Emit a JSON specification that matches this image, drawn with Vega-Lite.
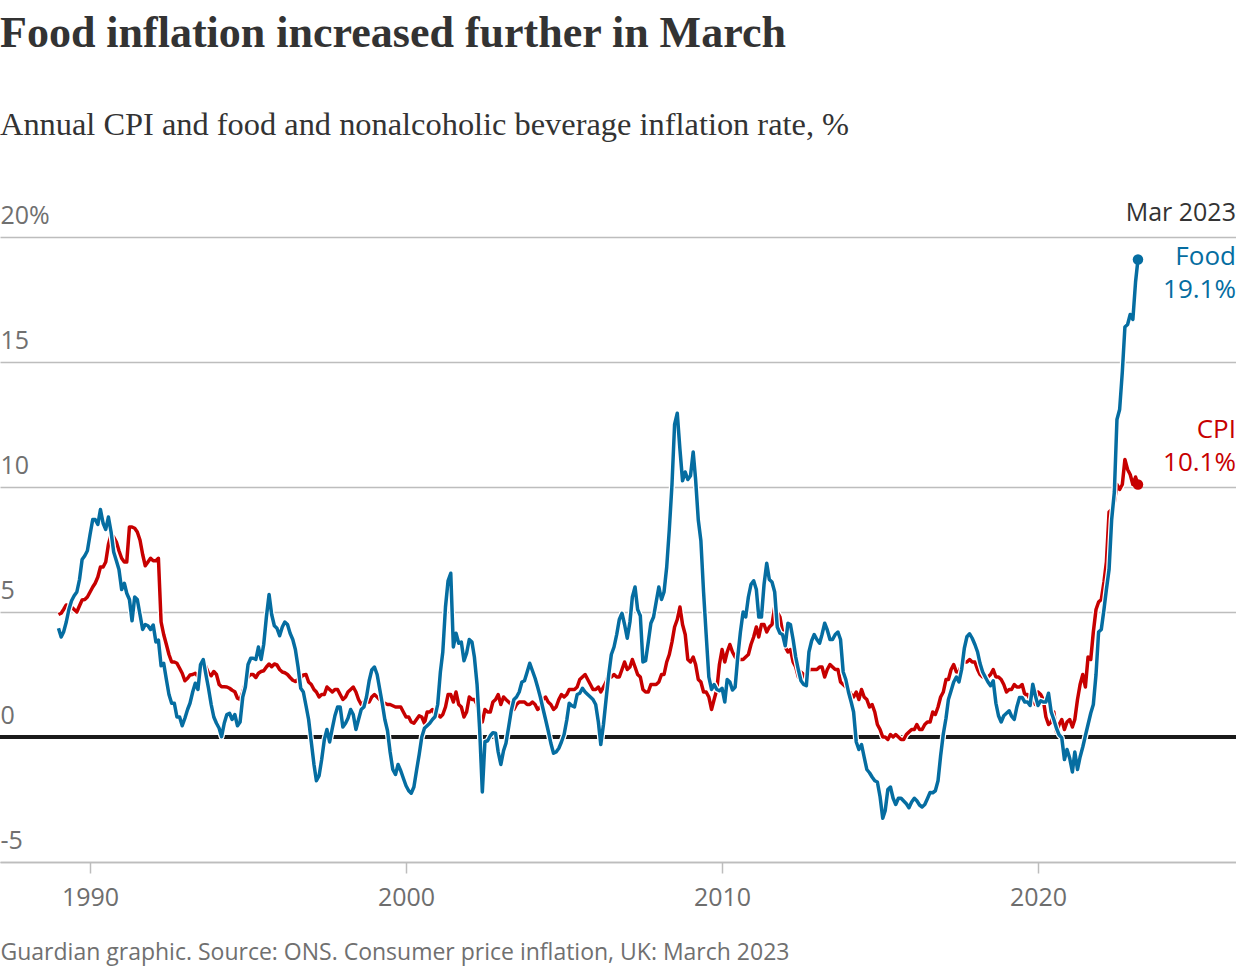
{
"$schema":"https://vega.github.io/schema/vega-lite/v6.json",
"width":1236,"height":625,
"autosize":{"type":"none"},
"padding":{"left":0,"right":0,"top":237,"bottom":110},
"background":"white",
"title":{"text":"Food inflation increased further in March","subtitle":"Annual CPI and food and nonalcoholic beverage inflation rate, %","anchor":"start","frame":"group","offset":60,"subtitlePadding":53,"font":"Liberation Serif","fontSize":44,"fontWeight":"bold","color":"#333333","subtitleFont":"Liberation Serif","subtitleFontSize":32.4,"subtitleColor":"#333333"},
"config":{"view":{"stroke":null}},
"datasets":{
"series":[
{"d":"1989-01","c":4.9,"f":4.35},{"d":"1989-02","c":4.95,"f":4.0},{"d":"1989-03","c":5.1,"f":4.2},{"d":"1989-04","c":5.28,"f":4.6},{"d":"1989-05","c":5.25,"f":5.1},{"d":"1989-06","c":5.2,"f":5.45},{"d":"1989-07","c":5.1,"f":5.65},{"d":"1989-08","c":5.0,"f":5.8},{"d":"1989-09","c":5.25,"f":6.3},{"d":"1989-10","c":5.48,"f":7.1},{"d":"1989-11","c":5.5,"f":7.25},{"d":"1989-12","c":5.6,"f":7.45},
{"d":"1990-01","c":5.8,"f":8.1},{"d":"1990-02","c":6.0,"f":8.7},{"d":"1990-03","c":6.15,"f":8.7},{"d":"1990-04","c":6.4,"f":8.5},{"d":"1990-05","c":6.8,"f":9.1},{"d":"1990-06","c":6.8,"f":8.55},{"d":"1990-07","c":7.0,"f":8.3},{"d":"1990-08","c":7.7,"f":8.8},{"d":"1990-09","c":8.1,"f":8.2},{"d":"1990-10","c":8.0,"f":7.4},{"d":"1990-11","c":7.8,"f":7.05},{"d":"1990-12","c":7.45,"f":6.7},
{"d":"1991-01","c":7.15,"f":5.9},{"d":"1991-02","c":7.0,"f":6.15},{"d":"1991-03","c":7.0,"f":5.75},{"d":"1991-04","c":8.4,"f":5.5},{"d":"1991-05","c":8.4,"f":4.65},{"d":"1991-06","c":8.35,"f":5.6},{"d":"1991-07","c":8.2,"f":5.5},{"d":"1991-08","c":7.88,"f":4.9},{"d":"1991-09","c":7.3,"f":4.3},{"d":"1991-10","c":6.85,"f":4.5},{"d":"1991-11","c":7.0,"f":4.45},{"d":"1991-12","c":7.15,"f":4.3},
{"d":"1992-01","c":7.05,"f":4.48},{"d":"1992-02","c":7.05,"f":3.8},{"d":"1992-03","c":7.15,"f":3.88},{"d":"1992-04","c":4.6,"f":2.85},{"d":"1992-05","c":4.1,"f":2.95},{"d":"1992-06","c":3.7,"f":2.3},{"d":"1992-07","c":3.3,"f":1.7},{"d":"1992-08","c":3.0,"f":1.35},{"d":"1992-09","c":3.0,"f":1.35},{"d":"1992-10","c":2.95,"f":0.8},{"d":"1992-11","c":2.75,"f":0.8},{"d":"1992-12","c":2.55,"f":0.45},
{"d":"1993-01","c":2.25,"f":0.75},{"d":"1993-02","c":2.35,"f":1.1},{"d":"1993-03","c":2.48,"f":1.35},{"d":"1993-04","c":2.5,"f":1.8},{"d":"1993-05","c":2.55,"f":2.15},{"d":"1993-06","c":2.42,"f":1.9},{"d":"1993-07","c":2.75,"f":2.9},{"d":"1993-08","c":3.08,"f":3.1},{"d":"1993-09","c":2.8,"f":2.5},{"d":"1993-10","c":2.55,"f":1.95},{"d":"1993-11","c":2.45,"f":1.3},{"d":"1993-12","c":2.62,"f":0.8},
{"d":"1994-01","c":2.5,"f":0.55},{"d":"1994-02","c":2.1,"f":0.35},{"d":"1994-03","c":2.01,"f":0.01},{"d":"1994-04","c":2.01,"f":0.55},{"d":"1994-05","c":2.0,"f":0.9},{"d":"1994-06","c":1.95,"f":0.95},{"d":"1994-07","c":1.87,"f":0.7},{"d":"1994-08","c":1.81,"f":0.9},{"d":"1994-09","c":1.55,"f":0.45},{"d":"1994-10","c":1.5,"f":0.6},{"d":"1994-11","c":1.8,"f":1.6},{"d":"1994-12","c":2.15,"f":2.0},
{"d":"1995-01","c":2.41,"f":2.9},{"d":"1995-02","c":2.5,"f":3.15},{"d":"1995-03","c":2.5,"f":3.15},{"d":"1995-04","c":2.38,"f":3.1},{"d":"1995-05","c":2.55,"f":3.6},{"d":"1995-06","c":2.62,"f":3.1},{"d":"1995-07","c":2.65,"f":3.7},{"d":"1995-08","c":2.8,"f":4.8},{"d":"1995-09","c":2.92,"f":5.7},{"d":"1995-10","c":2.81,"f":4.9},{"d":"1995-11","c":2.92,"f":4.45},{"d":"1995-12","c":2.88,"f":4.35},
{"d":"1996-01","c":2.7,"f":4.05},{"d":"1996-02","c":2.6,"f":4.4},{"d":"1996-03","c":2.57,"f":4.6},{"d":"1996-04","c":2.5,"f":4.5},{"d":"1996-05","c":2.38,"f":4.15},{"d":"1996-06","c":2.27,"f":3.9},{"d":"1996-07","c":2.22,"f":3.5},{"d":"1996-08","c":2.3,"f":2.8},{"d":"1996-09","c":2.38,"f":1.95},{"d":"1996-10","c":2.48,"f":1.8},{"d":"1996-11","c":2.5,"f":1.25},{"d":"1996-12","c":2.2,"f":0.7},
{"d":"1997-01","c":2.1,"f":-0.2},{"d":"1997-02","c":1.9,"f":-1.1},{"d":"1997-03","c":1.8,"f":-1.75},{"d":"1997-04","c":1.6,"f":-1.55},{"d":"1997-05","c":1.7,"f":-0.9},{"d":"1997-06","c":1.7,"f":-0.1},{"d":"1997-07","c":2.0,"f":0.3},{"d":"1997-08","c":1.9,"f":-0.2},{"d":"1997-09","c":1.8,"f":0.35},{"d":"1997-10","c":1.9,"f":0.85},{"d":"1997-11","c":1.9,"f":1.2},{"d":"1997-12","c":1.7,"f":1.2},
{"d":"1998-01","c":1.5,"f":0.4},{"d":"1998-02","c":1.6,"f":0.55},{"d":"1998-03","c":1.8,"f":0.75},{"d":"1998-04","c":1.9,"f":1.1},{"d":"1998-05","c":2.0,"f":0.9},{"d":"1998-06","c":1.8,"f":0.3},{"d":"1998-07","c":1.5,"f":0.7},{"d":"1998-08","c":1.3,"f":1.1},{"d":"1998-09","c":1.4,"f":1.2},{"d":"1998-10","c":1.4,"f":1.6},{"d":"1998-11","c":1.4,"f":2.25},{"d":"1998-12","c":1.6,"f":2.68},
{"d":"1999-01","c":1.7,"f":2.8},{"d":"1999-02","c":1.6,"f":2.5},{"d":"1999-03","c":1.5,"f":1.95},{"d":"1999-04","c":1.4,"f":1.35},{"d":"1999-05","c":1.35,"f":0.7},{"d":"1999-06","c":1.3,"f":0.25},{"d":"1999-07","c":1.3,"f":-0.6},{"d":"1999-08","c":1.25,"f":-1.3},{"d":"1999-09","c":1.2,"f":-1.5},{"d":"1999-10","c":1.2,"f":-1.1},{"d":"1999-11","c":1.2,"f":-1.35},{"d":"1999-12","c":1.0,"f":-1.65},
{"d":"2000-01","c":0.8,"f":-1.95},{"d":"2000-02","c":0.8,"f":-2.15},{"d":"2000-03","c":0.6,"f":-2.25},{"d":"2000-04","c":0.55,"f":-2.0},{"d":"2000-05","c":0.7,"f":-1.35},{"d":"2000-06","c":0.85,"f":-0.7},{"d":"2000-07","c":0.8,"f":0.0},{"d":"2000-08","c":0.55,"f":0.35},{"d":"2000-09","c":1.0,"f":0.45},{"d":"2000-10","c":1.0,"f":0.55},{"d":"2000-11","c":1.1,"f":0.7},{"d":"2000-12","c":0.9,"f":0.81},
{"d":"2001-01","c":0.9,"f":1.3},{"d":"2001-02","c":0.8,"f":2.6},{"d":"2001-03","c":0.9,"f":3.4},{"d":"2001-04","c":1.2,"f":5.2},{"d":"2001-05","c":1.7,"f":6.25},{"d":"2001-06","c":1.7,"f":6.55},{"d":"2001-07","c":1.4,"f":3.6},{"d":"2001-08","c":1.8,"f":4.15},{"d":"2001-09","c":1.3,"f":3.75},{"d":"2001-10","c":1.2,"f":3.8},{"d":"2001-11","c":0.8,"f":3.05},{"d":"2001-12","c":1.0,"f":3.35},
{"d":"2002-01","c":1.6,"f":3.9},{"d":"2002-02","c":1.5,"f":3.8},{"d":"2002-03","c":1.5,"f":3.2},{"d":"2002-04","c":1.3,"f":2.1},{"d":"2002-05","c":0.8,"f":0.3},{"d":"2002-06","c":0.6,"f":-2.2},{"d":"2002-07","c":1.1,"f":-0.19},{"d":"2002-08","c":1.0,"f":-0.15},{"d":"2002-09","c":1.0,"f":0.05},{"d":"2002-10","c":1.4,"f":0.17},{"d":"2002-11","c":1.5,"f":0.15},{"d":"2002-12","c":1.7,"f":-0.6},
{"d":"2003-01","c":1.3,"f":-1.1},{"d":"2003-02","c":1.6,"f":-0.55},{"d":"2003-03","c":1.5,"f":-0.25},{"d":"2003-04","c":1.4,"f":0.4},{"d":"2003-05","c":1.3,"f":1.05},{"d":"2003-06","c":1.1,"f":1.5},{"d":"2003-07","c":1.3,"f":1.6},{"d":"2003-08","c":1.4,"f":1.8},{"d":"2003-09","c":1.4,"f":2.2},{"d":"2003-10","c":1.4,"f":2.25},{"d":"2003-11","c":1.3,"f":2.6},{"d":"2003-12","c":1.3,"f":2.95},
{"d":"2004-01","c":1.4,"f":2.65},{"d":"2004-02","c":1.3,"f":2.35},{"d":"2004-03","c":1.1,"f":2.0},{"d":"2004-04","c":1.2,"f":1.6},{"d":"2004-05","c":1.5,"f":1.15},{"d":"2004-06","c":1.6,"f":0.7},{"d":"2004-07","c":1.4,"f":0.25},{"d":"2004-08","c":1.3,"f":-0.25},{"d":"2004-09","c":1.1,"f":-0.65},{"d":"2004-10","c":1.2,"f":-0.6},{"d":"2004-11","c":1.5,"f":-0.45},{"d":"2004-12","c":1.7,"f":-0.2},
{"d":"2005-01","c":1.6,"f":0.1},{"d":"2005-02","c":1.7,"f":0.68},{"d":"2005-03","c":1.9,"f":1.35},{"d":"2005-04","c":1.9,"f":1.25},{"d":"2005-05","c":1.9,"f":1.2},{"d":"2005-06","c":2.0,"f":1.7},{"d":"2005-07","c":2.3,"f":1.75},{"d":"2005-08","c":2.4,"f":1.95},{"d":"2005-09","c":2.5,"f":1.8},{"d":"2005-10","c":2.3,"f":1.7},{"d":"2005-11","c":2.1,"f":1.6},{"d":"2005-12","c":1.9,"f":1.5},
{"d":"2006-01","c":1.9,"f":1.3},{"d":"2006-02","c":2.0,"f":0.6},{"d":"2006-03","c":1.8,"f":-0.3},{"d":"2006-04","c":2.0,"f":0.5},{"d":"2006-05","c":2.2,"f":1.5},{"d":"2006-06","c":2.5,"f":2.5},{"d":"2006-07","c":2.4,"f":3.3},{"d":"2006-08","c":2.5,"f":3.6},{"d":"2006-09","c":2.4,"f":4.1},{"d":"2006-10","c":2.4,"f":4.7},{"d":"2006-11","c":2.7,"f":4.95},{"d":"2006-12","c":3.0,"f":4.5},
{"d":"2007-01","c":2.7,"f":3.95},{"d":"2007-02","c":2.8,"f":4.6},{"d":"2007-03","c":3.1,"f":5.6},{"d":"2007-04","c":2.8,"f":6.0},{"d":"2007-05","c":2.5,"f":5.1},{"d":"2007-06","c":2.4,"f":4.85},{"d":"2007-07","c":1.9,"f":3.0},{"d":"2007-08","c":1.8,"f":3.05},{"d":"2007-09","c":1.8,"f":3.8},{"d":"2007-10","c":2.1,"f":4.55},{"d":"2007-11","c":2.1,"f":4.8},{"d":"2007-12","c":2.1,"f":5.4},
{"d":"2008-01","c":2.2,"f":6.0},{"d":"2008-02","c":2.5,"f":5.5},{"d":"2008-03","c":2.5,"f":5.8},{"d":"2008-04","c":3.0,"f":6.8},{"d":"2008-05","c":3.3,"f":8.3},{"d":"2008-06","c":3.8,"f":10.1},{"d":"2008-07","c":4.4,"f":12.5},{"d":"2008-08","c":4.7,"f":12.95},{"d":"2008-09","c":5.2,"f":11.5},{"d":"2008-10","c":4.5,"f":10.25},{"d":"2008-11","c":4.1,"f":10.6},{"d":"2008-12","c":3.1,"f":10.3},
{"d":"2009-01","c":3.0,"f":10.45},{"d":"2009-02","c":3.2,"f":11.4},{"d":"2009-03","c":2.9,"f":10.3},{"d":"2009-04","c":2.3,"f":8.68},{"d":"2009-05","c":2.2,"f":7.85},{"d":"2009-06","c":1.8,"f":5.8},{"d":"2009-07","c":1.8,"f":4.1},{"d":"2009-08","c":1.6,"f":2.4},{"d":"2009-09","c":1.1,"f":1.9},{"d":"2009-10","c":1.5,"f":2.1},{"d":"2009-11","c":1.9,"f":1.9},{"d":"2009-12","c":2.9,"f":1.85},
{"d":"2010-01","c":3.5,"f":1.95},{"d":"2010-02","c":3.0,"f":1.4},{"d":"2010-03","c":3.4,"f":2.3},{"d":"2010-04","c":3.7,"f":2.2},{"d":"2010-05","c":3.4,"f":1.88},{"d":"2010-06","c":3.2,"f":2.0},{"d":"2010-07","c":3.1,"f":3.2},{"d":"2010-08","c":3.1,"f":4.2},{"d":"2010-09","c":3.1,"f":5.0},{"d":"2010-10","c":3.2,"f":4.8},{"d":"2010-11","c":3.3,"f":5.6},{"d":"2010-12","c":3.7,"f":6.1},
{"d":"2011-01","c":4.0,"f":6.25},{"d":"2011-02","c":4.4,"f":5.9},{"d":"2011-03","c":4.0,"f":4.8},{"d":"2011-04","c":4.5,"f":4.8},{"d":"2011-05","c":4.5,"f":6.1},{"d":"2011-06","c":4.2,"f":6.95},{"d":"2011-07","c":4.4,"f":6.3},{"d":"2011-08","c":4.5,"f":6.2},{"d":"2011-09","c":5.2,"f":5.8},{"d":"2011-10","c":5.0,"f":4.4},{"d":"2011-11","c":4.8,"f":4.15},{"d":"2011-12","c":4.2,"f":4.1},
{"d":"2012-01","c":3.6,"f":3.65},{"d":"2012-02","c":3.4,"f":4.55},{"d":"2012-03","c":3.5,"f":4.5},{"d":"2012-04","c":3.0,"f":3.9},{"d":"2012-05","c":2.8,"f":3.2},{"d":"2012-06","c":2.4,"f":2.68},{"d":"2012-07","c":2.6,"f":2.25},{"d":"2012-08","c":2.5,"f":2.1},{"d":"2012-09","c":2.2,"f":2.05},{"d":"2012-10","c":2.7,"f":3.4},{"d":"2012-11","c":2.7,"f":3.85},{"d":"2012-12","c":2.7,"f":4.1},
{"d":"2013-01","c":2.7,"f":3.9},{"d":"2013-02","c":2.8,"f":3.75},{"d":"2013-03","c":2.8,"f":4.1},{"d":"2013-04","c":2.4,"f":4.55},{"d":"2013-05","c":2.7,"f":4.28},{"d":"2013-06","c":2.9,"f":3.9},{"d":"2013-07","c":2.8,"f":3.9},{"d":"2013-08","c":2.7,"f":4.1},{"d":"2013-09","c":2.7,"f":4.2},{"d":"2013-10","c":2.2,"f":3.9},{"d":"2013-11","c":2.1,"f":2.6},{"d":"2013-12","c":2.0,"f":2.3},
{"d":"2014-01","c":1.9,"f":1.8},{"d":"2014-02","c":1.7,"f":1.4},{"d":"2014-03","c":1.6,"f":1.0},{"d":"2014-04","c":1.8,"f":-0.2},{"d":"2014-05","c":1.5,"f":-0.5},{"d":"2014-06","c":1.9,"f":-0.3},{"d":"2014-07","c":1.6,"f":-0.8},{"d":"2014-08","c":1.5,"f":-1.3},{"d":"2014-09","c":1.2,"f":-1.43},{"d":"2014-10","c":1.3,"f":-1.6},{"d":"2014-11","c":1.0,"f":-1.75},{"d":"2014-12","c":0.5,"f":-1.8},
{"d":"2015-01","c":0.3,"f":-2.39},{"d":"2015-02","c":0.0,"f":-3.25},{"d":"2015-03","c":0.0,"f":-2.95},{"d":"2015-04","c":-0.1,"f":-2.1},{"d":"2015-05","c":0.1,"f":-2.0},{"d":"2015-06","c":0.0,"f":-2.45},{"d":"2015-07","c":0.1,"f":-2.7},{"d":"2015-08","c":0.0,"f":-2.45},{"d":"2015-09","c":-0.1,"f":-2.45},{"d":"2015-10","c":-0.1,"f":-2.56},{"d":"2015-11","c":0.1,"f":-2.67},{"d":"2015-12","c":0.2,"f":-2.83},
{"d":"2016-01","c":0.3,"f":-2.6},{"d":"2016-02","c":0.3,"f":-2.45},{"d":"2016-03","c":0.5,"f":-2.55},{"d":"2016-04","c":0.3,"f":-2.72},{"d":"2016-05","c":0.3,"f":-2.8},{"d":"2016-06","c":0.5,"f":-2.7},{"d":"2016-07","c":0.6,"f":-2.47},{"d":"2016-08","c":0.6,"f":-2.22},{"d":"2016-09","c":1.0,"f":-2.23},{"d":"2016-10","c":0.9,"f":-2.15},{"d":"2016-11","c":1.2,"f":-1.75},{"d":"2016-12","c":1.6,"f":-0.75},
{"d":"2017-01","c":1.8,"f":0.12},{"d":"2017-02","c":2.3,"f":0.75},{"d":"2017-03","c":2.3,"f":1.5},{"d":"2017-04","c":2.7,"f":1.85},{"d":"2017-05","c":2.9,"f":2.2},{"d":"2017-06","c":2.6,"f":2.4},{"d":"2017-07","c":2.6,"f":2.2},{"d":"2017-08","c":2.9,"f":2.7},{"d":"2017-09","c":3.0,"f":3.55},{"d":"2017-10","c":3.0,"f":4.01},{"d":"2017-11","c":3.1,"f":4.13},{"d":"2017-12","c":3.0,"f":3.95},
{"d":"2018-01","c":3.0,"f":3.7},{"d":"2018-02","c":2.7,"f":3.4},{"d":"2018-03","c":2.5,"f":2.95},{"d":"2018-04","c":2.4,"f":2.6},{"d":"2018-05","c":2.4,"f":2.4},{"d":"2018-06","c":2.4,"f":2.2},{"d":"2018-07","c":2.5,"f":2.05},{"d":"2018-08","c":2.7,"f":2.25},{"d":"2018-09","c":2.4,"f":1.35},{"d":"2018-10","c":2.4,"f":0.85},{"d":"2018-11","c":2.3,"f":0.6},{"d":"2018-12","c":2.1,"f":0.85},
{"d":"2019-01","c":1.8,"f":0.95},{"d":"2019-02","c":1.9,"f":1.05},{"d":"2019-03","c":1.9,"f":0.83},{"d":"2019-04","c":2.1,"f":0.7},{"d":"2019-05","c":2.0,"f":1.2},{"d":"2019-06","c":2.0,"f":1.58},{"d":"2019-07","c":2.1,"f":1.58},{"d":"2019-08","c":1.7,"f":1.4},{"d":"2019-09","c":1.7,"f":1.4},{"d":"2019-10","c":1.5,"f":1.26},{"d":"2019-11","c":1.5,"f":2.11},{"d":"2019-12","c":1.3,"f":1.65},
{"d":"2020-01","c":1.8,"f":1.26},{"d":"2020-02","c":1.7,"f":1.45},{"d":"2020-03","c":1.5,"f":1.4},{"d":"2020-04","c":0.8,"f":1.4},{"d":"2020-05","c":0.5,"f":1.75},{"d":"2020-06","c":0.6,"f":1.0},{"d":"2020-07","c":1.0,"f":0.7},{"d":"2020-08","c":0.2,"f":0.35},{"d":"2020-09","c":0.5,"f":0.08},{"d":"2020-10","c":0.7,"f":-0.03},{"d":"2020-11","c":0.3,"f":-0.9},{"d":"2020-12","c":0.6,"f":-0.5},
{"d":"2021-01","c":0.7,"f":-0.85},{"d":"2021-02","c":0.4,"f":-1.4},{"d":"2021-03","c":0.7,"f":-0.6},{"d":"2021-04","c":1.5,"f":-1.3},{"d":"2021-05","c":2.1,"f":-0.8},{"d":"2021-06","c":2.5,"f":-0.4},{"d":"2021-07","c":2.0,"f":0.05},{"d":"2021-08","c":3.2,"f":0.5},{"d":"2021-09","c":3.1,"f":0.95},{"d":"2021-10","c":4.2,"f":1.3},{"d":"2021-11","c":5.1,"f":2.5},{"d":"2021-12","c":5.4,"f":4.2},
{"d":"2022-01","c":5.5,"f":4.3},{"d":"2022-02","c":6.2,"f":5.1},{"d":"2022-03","c":7.0,"f":5.9},{"d":"2022-04","c":9.0,"f":6.7},{"d":"2022-05","c":9.1,"f":8.7},{"d":"2022-06","c":9.4,"f":9.8},{"d":"2022-07","c":10.1,"f":12.7},{"d":"2022-08","c":9.9,"f":13.1},{"d":"2022-09","c":10.1,"f":14.6},{"d":"2022-10","c":11.1,"f":16.4},{"d":"2022-11","c":10.7,"f":16.5},{"d":"2022-12","c":10.5,"f":16.9},
{"d":"2023-01","c":10.1,"f":16.7},{"d":"2023-02","c":10.4,"f":18.2},{"d":"2023-03","c":10.1,"f":19.1}
],
"ends":[
{"d":"2023-03","s":"CPI","v":10.1},
{"d":"2023-03","s":"Food","v":19.1}
]
},
"data":{"name":"series"},
"encoding":{
"x":{"field":"d","type":"temporal","scale":{"type":"utc","domain":["1987-02-25","2026-04-07"]},
"axis":{"title":"Guardian graphic. Source: ONS. Consumer price inflation, UK: March 2023","titleFont":"Open Sans","titleFontSize":23,"titleFontWeight":"normal","titleColor":"#707070","titleAlign":"left","titleAnchor":"start","titleX":0,"titleY":97,"titleBaseline":"alphabetic","tickCount":{"interval":"year","step":10},"format":"%Y","grid":false,"domainColor":"#bdbdbd","domainWidth":1.5,"tickColor":"#bdbdbd","tickWidth":1.5,"tickSize":11,"labelFont":"Open Sans","labelFontSize":25,"labelColor":"#6e6e6e","labelBaseline":"alphabetic","labelPadding":32}}
},
"layer":[
{"mark":{"type":"rule","color":"#1a1a1a","strokeWidth":3},
 "encoding":{"x":null,"y":{"datum":0,"type":"quantitative","scale":{"domain":[-5,20],"nice":false,"zero":false},
 "axis":{"values":[-5,0,5,10,15,20],"title":null,"domain":false,"ticks":false,"tickSize":0,"grid":true,"gridColor":"#bdbdbd","gridWidth":1.5,"labelAlign":"left","labelBaseline":"alphabetic","labelPadding":0,"labelOffset":-14,"labelFont":"Open Sans","labelFontSize":25,"labelColor":"#707070","labelExpr":"datum.value == 20 ? '20%' : replace(datum.label, '\u2212', '-')"}}}},
{"mark":{"type":"line","stroke":"white","strokeWidth":6,"strokeJoin":"round"},"encoding":{"y":{"field":"c","type":"quantitative"}}},
{"mark":{"type":"line","stroke":"#c70000","strokeWidth":3.5,"strokeJoin":"round"},"encoding":{"y":{"field":"c","type":"quantitative"}}},
{"mark":{"type":"line","stroke":"white","strokeWidth":6,"strokeJoin":"round"},"encoding":{"y":{"field":"f","type":"quantitative"}}},
{"mark":{"type":"line","stroke":"#056da1","strokeWidth":3.5,"strokeJoin":"round"},"encoding":{"y":{"field":"f","type":"quantitative"}}},
{"data":{"name":"ends"},
 "mark":{"type":"point","filled":true,"size":110,"opacity":1},
 "encoding":{"y":{"field":"v","type":"quantitative"},"color":{"field":"s","type":"nominal","scale":{"domain":["CPI","Food"],"range":["#c70000","#056da1"]},"legend":null}}},
{"data":{"name":"ends"},"transform":[{"filter":"datum.s == 'Food'"},{"calculate":"[datum.s, format(datum.v, '.1f') + '%']","as":"label"}],
 "mark":{"type":"text","align":"right","baseline":"alphabetic","dx":98,"dy":5,"lineHeight":33,"font":"Open Sans","fontSize":26,"color":"#056da1"},
 "encoding":{"y":{"field":"v","type":"quantitative"},"text":{"field":"label"}}},
{"data":{"name":"ends"},"transform":[{"filter":"datum.s == 'CPI'"},{"calculate":"[datum.s, format(datum.v, '.1f') + '%']","as":"label"}],
 "mark":{"type":"text","align":"right","baseline":"alphabetic","dx":98,"dy":-47,"lineHeight":33,"font":"Open Sans","fontSize":26,"color":"#c70000"},
 "encoding":{"y":{"field":"v","type":"quantitative"},"text":{"field":"label"}}},
{"data":{"name":"ends"},"transform":[{"filter":"datum.s == 'Food'"}],
 "mark":{"type":"text","align":"right","baseline":"alphabetic","dx":98,"dy":-16,"font":"Open Sans","fontSize":25,"color":"#333333","text":"Mar 2023"},
 "encoding":{"y":{"datum":20,"type":"quantitative"}}}
]
}
